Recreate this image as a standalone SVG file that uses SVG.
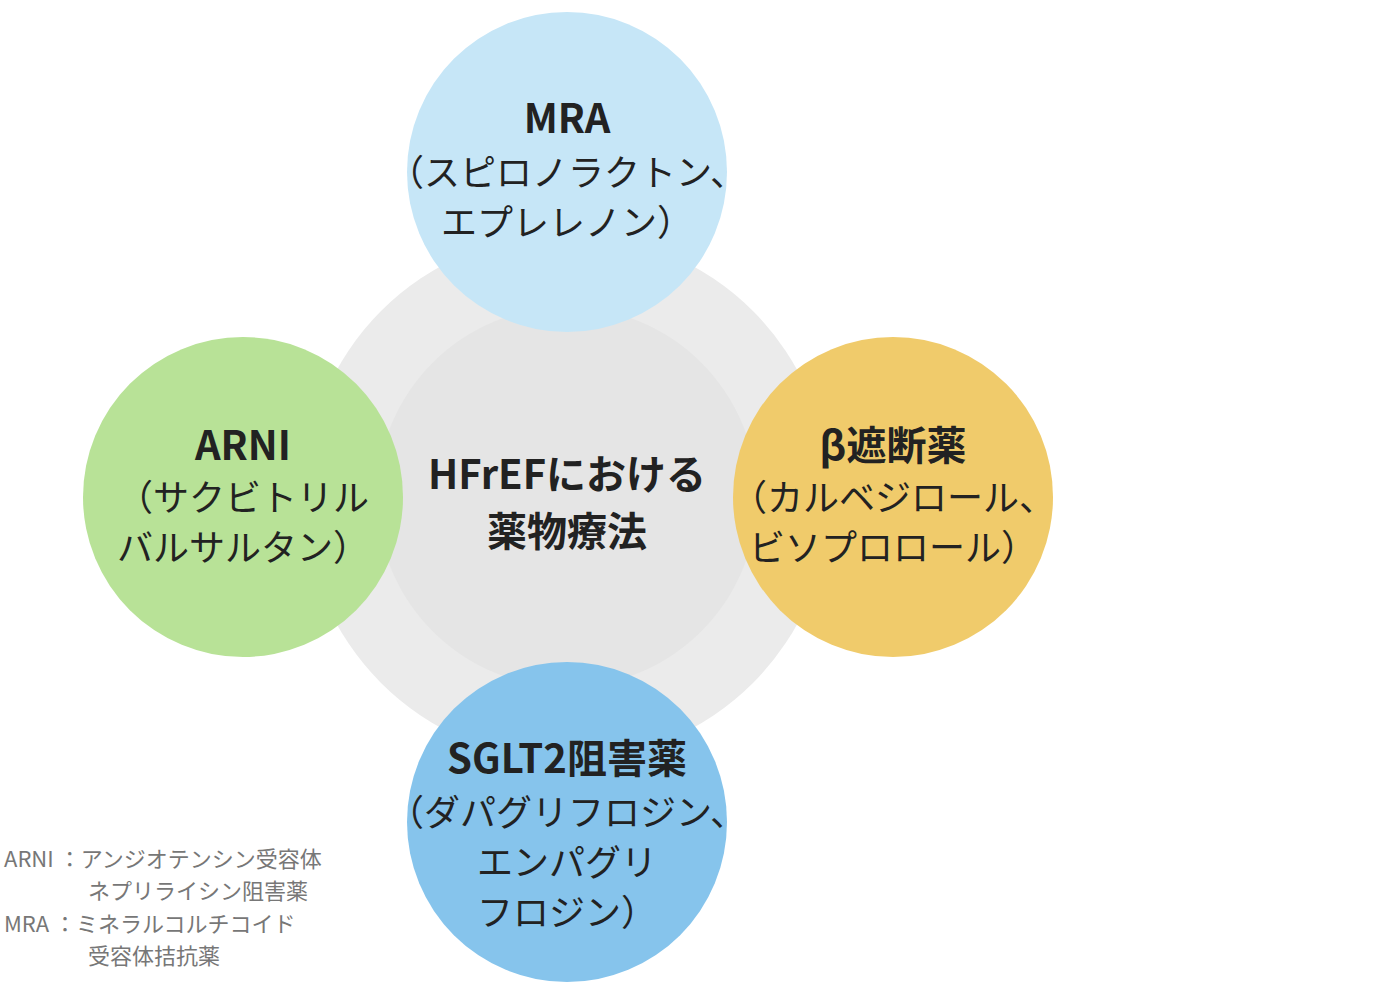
<svg xmlns="http://www.w3.org/2000/svg" width="1398" height="998" viewBox="0 0 1398 998">
<style>
text{font-family:"Noto Sans CJK JP","Noto Sans",sans-serif;fill:#222;text-anchor:middle}
.t{font-size:40px;font-weight:bold}
.s{font-size:36px}
.c{font-size:40px;font-weight:bold}
.l{font-size:22px;fill:#777;text-anchor:start}
</style>
<rect width="1398" height="998" fill="#fff"/>
<g id="center">
<circle cx="567" cy="497" r="263" fill="#ebebeb"/>
<circle cx="567" cy="497" r="190" fill="#e5e5e5"/>
<text class="c" x="567" y="489">HFrEFにおける</text>
<text class="c" x="567" y="546">薬物療法</text>
</g>
<g id="connectors"></g>
<g id="mra">
<circle cx="567" cy="172" r="160" fill="#c6e6f7"/>
<text class="t" x="567" y="133">MRA</text>
<text class="s" x="567" y="186">（スピロノラクトン、</text>
<text class="s" x="567" y="236">エプレレノン）</text>
</g>
<g id="arni">
<circle cx="243" cy="497" r="160" fill="#b8e297"/>
<text class="t" x="243" y="460">ARNI</text>
<text class="s" x="243" y="511">（サクビトリル</text>
<text class="s" x="243" y="561">バルサルタン）</text>
</g>
<g id="beta">
<circle cx="893" cy="497" r="160" fill="#f0cb6b"/>
<text class="t" x="893" y="460">β遮断薬</text>
<text class="s" x="893" y="511">（カルベジロール、</text>
<text class="s" x="893" y="561">ビソプロロール）</text>
</g>
<g id="sglt2">
<circle cx="567" cy="822" r="160" fill="#86c4ec"/>
<text class="t" x="567" y="773">SGLT2阻害薬</text>
<text class="s" x="567" y="826">（ダパグリフロジン、</text>
<text class="s" x="567" y="876">エンパグリ</text>
<text class="s" x="567" y="926">フロジン）</text>
</g>
<g id="legend">
<text class="l" x="4" y="867">ARNI ：アンジオテンシン受容体</text>
<text class="l" x="88" y="899">ネプリライシン阻害薬</text>
<text class="l" x="4" y="932">MRA ：ミネラルコルチコイド</text>
<text class="l" x="88" y="964">受容体拮抗薬</text>
</g>
</svg>
